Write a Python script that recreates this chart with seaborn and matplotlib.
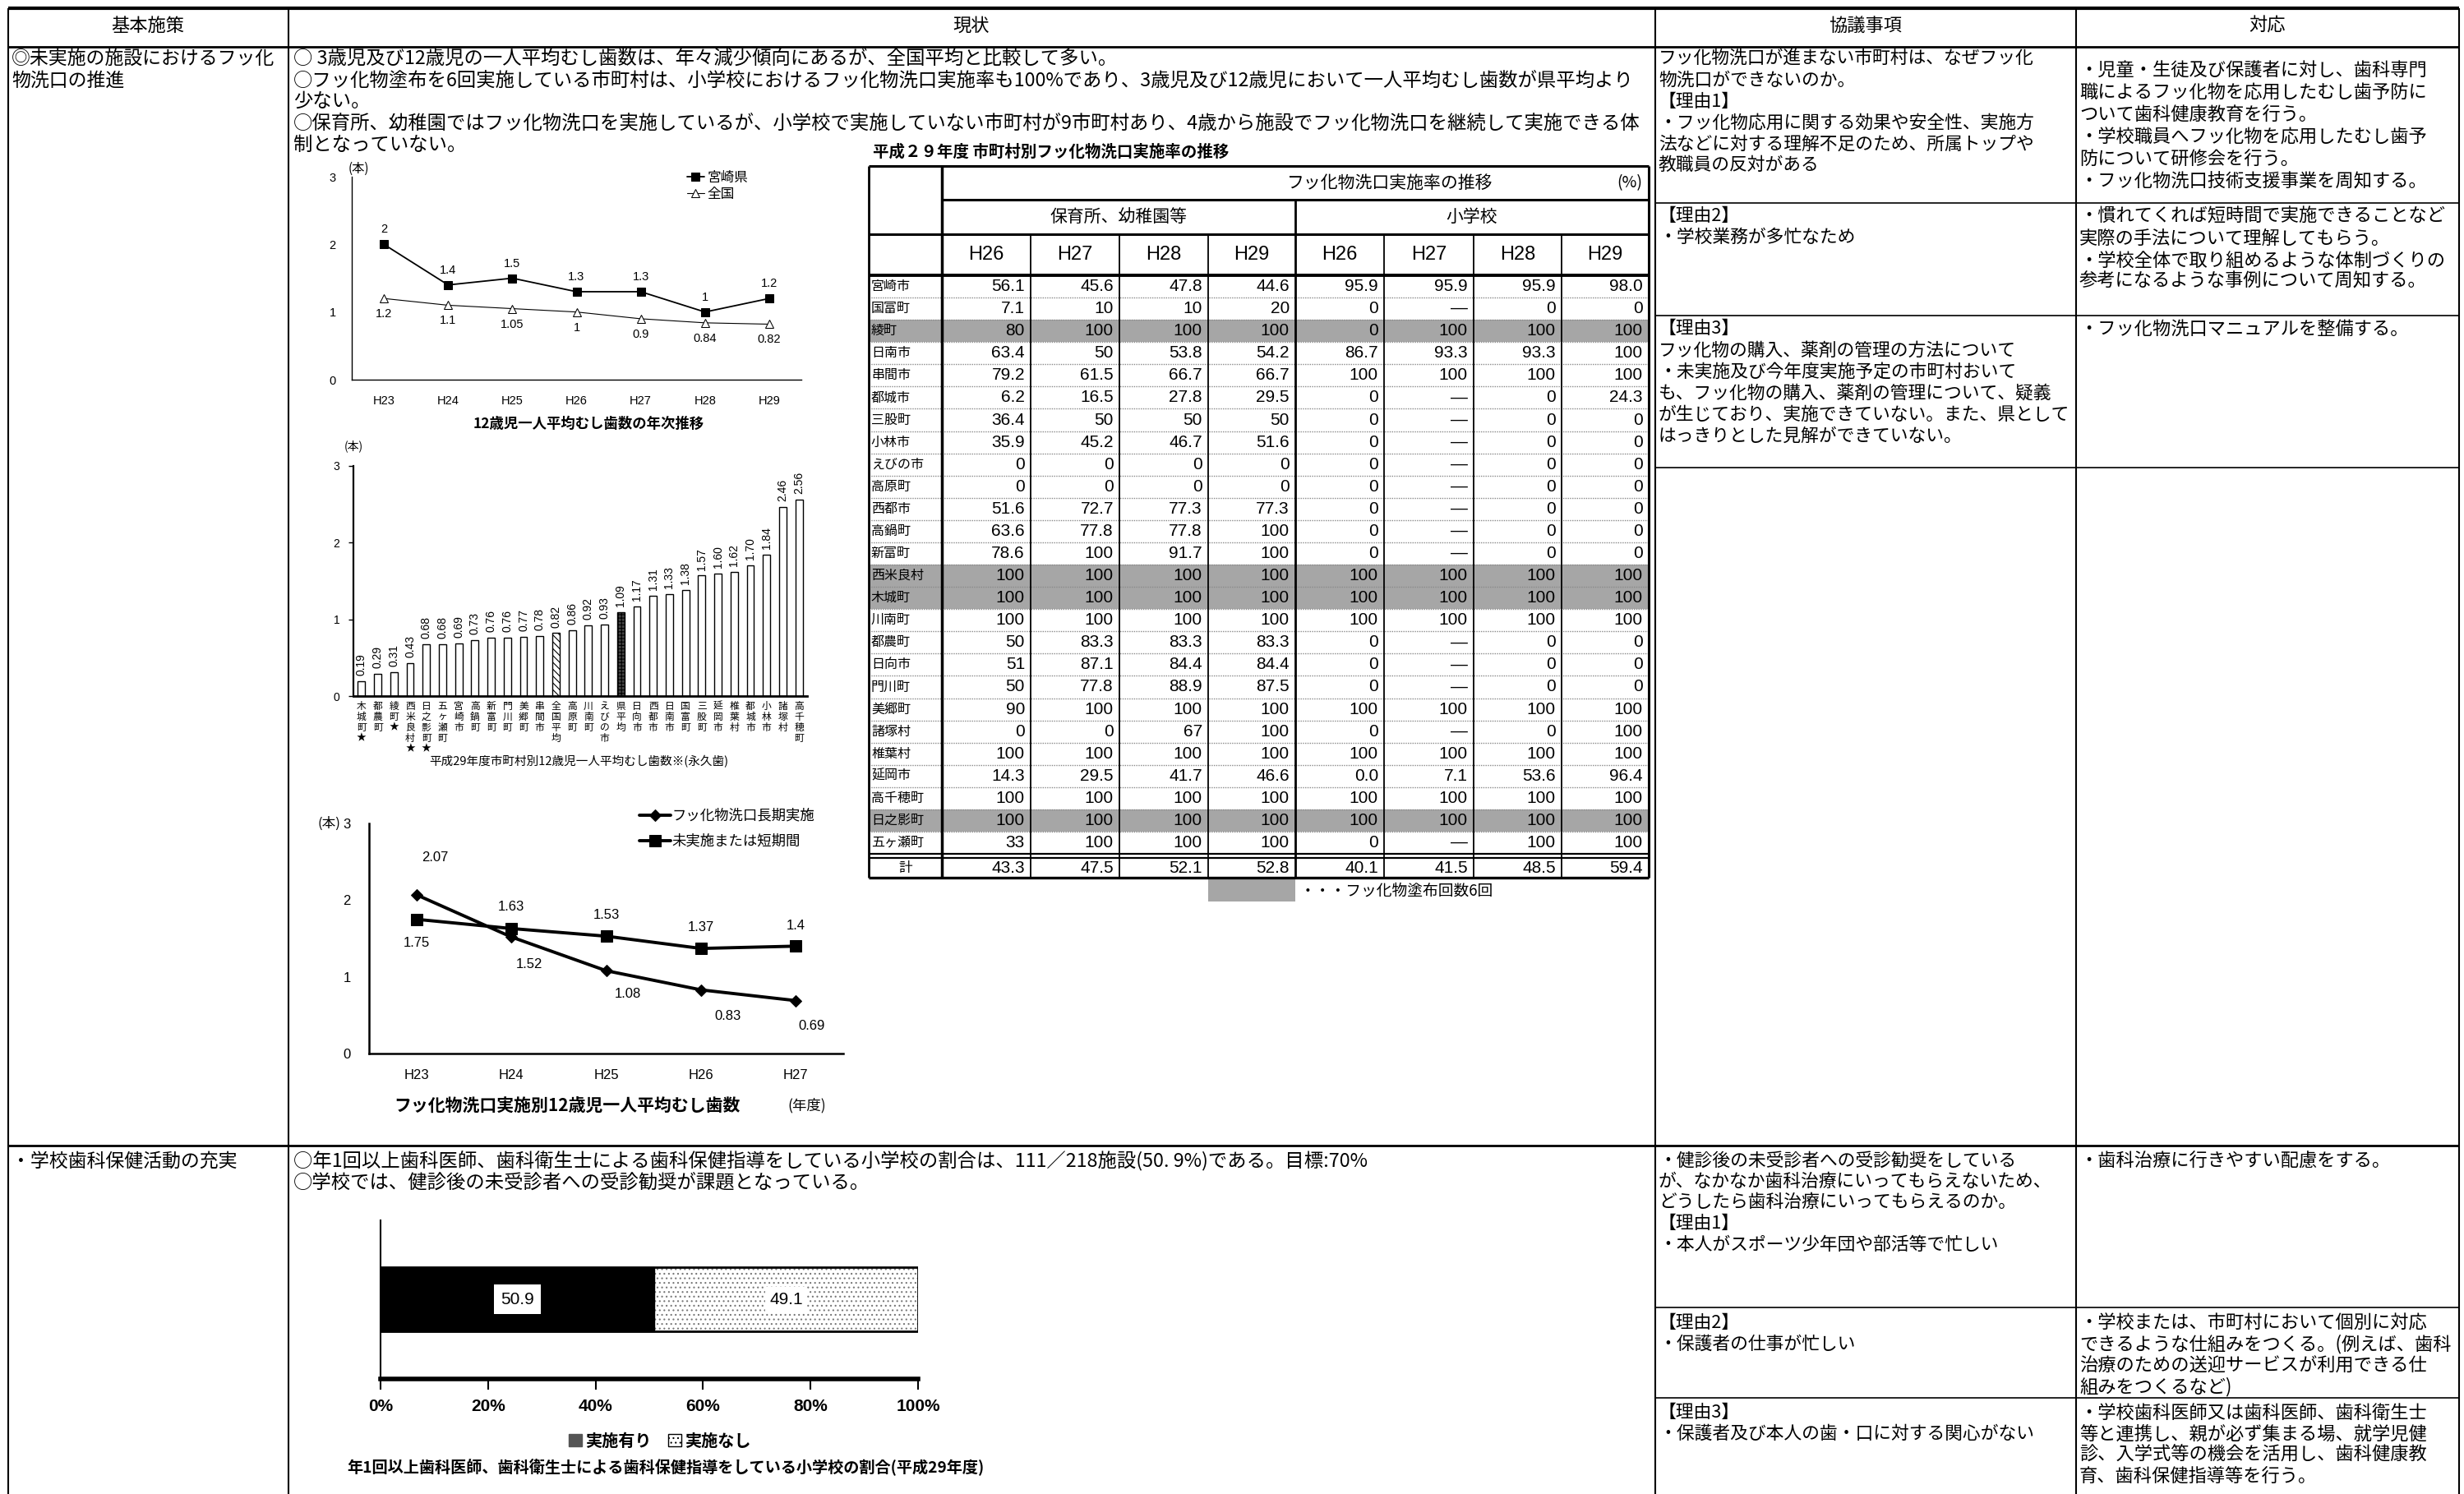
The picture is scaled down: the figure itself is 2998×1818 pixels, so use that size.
import pandas as pd
import matplotlib
matplotlib.use('Agg')
import matplotlib.pyplot as plt
import seaborn as sns
from matplotlib.patches import Patch, Rectangle

# ---- data ----
years_12 = ['H23', 'H24', 'H25', 'H26', 'H27', 'H28', 'H29']
caries_miyazaki = [2, 1.4, 1.5, 1.3, 1.3, 1, 1.2]
caries_national = [1.2, 1.1, 1.05, 1, 0.9, 0.84, 0.82]

town_names = ['木城町★', '都農町', '綾町★', '西米良村★', '日之影町★', '五ヶ瀬町', '宮崎市',
              '高鍋町', '新富町', '門川町', '美郷町', '串間市', '全国平均', '高原町', '川南町',
              'えびの市', '県平均', '日向市', '西都市', '日南市', '国富町', '三股町', '延岡市',
              '椎葉村', '都城市', '小林市', '諸塚村', '高千穂町']
town_caries = [0.19, 0.29, 0.31, 0.43, 0.68, 0.68, 0.69, 0.73, 0.76, 0.76, 0.77, 0.78, 0.82,
               0.86, 0.92, 0.93, 1.09, 1.17, 1.31, 1.33, 1.38, 1.57, 1.60, 1.62, 1.70, 1.84,
               2.46, 2.56]

years_rinse = ['H23', 'H24', 'H25', 'H26', 'H27']
rinse_long = [2.07, 1.52, 1.08, 0.83, 0.69]
rinse_short = [1.75, 1.63, 1.53, 1.37, 1.4]

table_towns = ['宮崎市', '国富町', '綾町', '日南市', '串間市', '都城市', '三股町', '小林市', 'えびの市',
               '高原町', '西都市', '高鍋町', '新富町', '西米良村', '木城町', '川南町', '都農町', '日向市',
               '門川町', '美郷町', '諸塚村', '椎葉村', '延岡市', '高千穂町', '日之影町', '五ヶ瀬町']
table_years = ['H26', 'H27', 'H28', 'H29', 'H26', 'H27', 'H28', 'H29']
nursery_h26 = ['56.1', '7.1', '80', '63.4', '79.2', '6.2', '36.4', '35.9', '0', '0', '51.6', '63.6', '78.6',
               '100', '100', '100', '50', '51', '50', '90', '0', '100', '14.3', '100', '100', '33']
nursery_h27 = ['45.6', '10', '100', '50', '61.5', '16.5', '50', '45.2', '0', '0', '72.7', '77.8', '100',
               '100', '100', '100', '83.3', '87.1', '77.8', '100', '0', '100', '29.5', '100', '100', '100']
nursery_h28 = ['47.8', '10', '100', '53.8', '66.7', '27.8', '50', '46.7', '0', '0', '77.3', '77.8', '91.7',
               '100', '100', '100', '83.3', '84.4', '88.9', '100', '67', '100', '41.7', '100', '100', '100']
nursery_h29 = ['44.6', '20', '100', '54.2', '66.7', '29.5', '50', '51.6', '0', '0', '77.3', '100', '100',
               '100', '100', '100', '83.3', '84.4', '87.5', '100', '100', '100', '46.6', '100', '100', '100']
school_h26 = ['95.9', '0', '0', '86.7', '100', '0', '0', '0', '0', '0', '0', '0', '0',
              '100', '100', '100', '0', '0', '0', '100', '0', '100', '0.0', '100', '100', '0']
school_h27 = ['95.9', '—', '100', '93.3', '100', '—', '—', '—', '—', '—', '—', '—', '—',
              '100', '100', '100', '—', '—', '—', '100', '—', '100', '7.1', '100', '100', '—']
school_h28 = ['95.9', '0', '100', '93.3', '100', '0', '0', '0', '0', '0', '0', '0', '0',
              '100', '100', '100', '0', '0', '0', '100', '0', '100', '53.6', '100', '100', '100']
school_h29 = ['98.0', '0', '100', '100', '100', '24.3', '0', '0', '0', '0', '0', '0', '0',
              '100', '100', '100', '0', '0', '0', '100', '100', '100', '96.4', '100', '100', '100']
table_total = ['43.3', '47.5', '52.1', '52.8', '40.1', '41.5', '48.5', '59.4']
six_times_towns = ['綾町', '西米良村', '木城町', '日之影町']

guidance_yes = [50.9]
guidance_no = [49.1]

# ---- setup ----
sns.set_theme(style='white')
JP = ['Noto Sans CJK JP', 'DejaVu Sans']
NUM = ['Liberation Sans Narrow', 'Liberation Sans', 'Noto Sans CJK JP']
LAT = ['Liberation Sans', 'Noto Sans CJK JP']
plt.rcParams['font.family'] = JP
plt.rcParams['text.color'] = 'black'
plt.rcParams['xtick.color'] = 'black'
plt.rcParams['ytick.color'] = 'black'
plt.rcParams['hatch.linewidth'] = 0.8

W, H = 2998, 1818
fig = plt.figure(figsize=(W / 100, H / 100), dpi=100)
fig.patch.set_facecolor('white')
bg = fig.add_axes([0, 0, 1, 1])
bg.set_xlim(0, W)
bg.set_ylim(H, 0)
bg.axis('off')


def px_axes(x0, y0, x1, y1):
    a = fig.add_axes([x0 / W, 1 - y1 / H, (x1 - x0) / W, (y1 - y0) / H])
    a.set_facecolor('none')
    return a


def hline(y, x0, x1, lw=1.5, **kw):
    bg.plot([x0, x1], [y, y], color=kw.pop('color', 'black'), lw=lw, solid_capstyle='butt', **kw)


def vline(x, y0, y1, lw=1.5, **kw):
    bg.plot([x, x], [y0, y1], color=kw.pop('color', 'black'), lw=lw, solid_capstyle='butt', **kw)


def put(x, y, s, size=16, ha='left', va='center', **kw):
    bg.text(x, y, s, fontsize=size, ha=ha, va=va, **kw)


def block(x, ys, lines, size=16):
    for y, s in zip(ys, lines):
        put(x, y, s, size)


# ---- outer table ----
cols = [10, 351, 2014, 2526, 2992]
hline(10, 10, 2992, lw=3)
hline(57, 10, 2992, lw=2)
hline(1394, 10, 2992, lw=2)
for x in cols:
    vline(x, 10, 1818, lw=1.5)
for y in [247, 384, 569, 1591, 1701]:
    hline(y, 2014, 2992, lw=1.2)

put(180, 31, '基本施策', 16, ha='center')
put(1182, 31, '現状', 16, ha='center')
put(2270, 31, '協議事項', 16, ha='center')
put(2759, 31, '対応', 16, ha='center')

block(14, [71, 98], ['◎未実施の施設におけるフッ化', '物洗口の推進'], 16.5)
block(357, [71, 98, 123, 150, 176], [
    '○ 3歳児及び12歳児の一人平均むし歯数は、年々減少傾向にあるが、全国平均と比較して多い。',
    '○フッ化物塗布を6回実施している市町村は、小学校におけるフッ化物洗口実施率も100%であり、3歳児及び12歳児において一人平均むし歯数が県平均より',
    '少ない。',
    '○保育所、幼稚園ではフッ化物洗口を実施しているが、小学校で実施していない市町村が9市町村あり、4歳から施設でフッ化物洗口を継続して実施できる体',
    '制となっていない。'], 16.8)
block(2018, [71, 98, 124, 150, 176, 201], [
    'フッ化物洗口が進まない市町村は、なぜフッ化',
    '物洗口ができないのか。',
    '【理由1】',
    '・フッ化物応用に関する効果や安全性、実施方',
    '法などに対する理解不足のため、所属トップや',
    '教職員の反対がある'], 15.7)
block(2018, [263, 289], ['【理由2】', '・学校業務が多忙なため'], 15.7)
block(2018, [400, 427, 453, 479, 505, 531], [
    '【理由3】',
    'フッ化物の購入、薬剤の管理の方法について',
    '・未実施及び今年度実施予定の市町村おいて',
    'も、フッ化物の購入、薬剤の管理について、疑義',
    'が生じており、実施できていない。また、県として',
    'はっきりとした見解ができていない。'], 15.7)
block(2530, [86, 113, 140, 167, 194, 221], [
    '・児童・生徒及び保護者に対し、歯科専門',
    '職によるフッ化物を応用したむし歯予防に',
    'ついて歯科健康教育を行う。',
    '・学校職員へフッ化物を応用したむし歯予',
    '防について研修会を行う。',
    '・フッ化物洗口技術支援事業を周知する。'], 16)
block(2530, [263, 290, 317, 342], [
    '・慣れてくれば短時間で実施できることなど',
    '実際の手法について理解してもらう。',
    '・学校全体で取り組めるような体制づくりの',
    '参考になるような事例について周知する。'], 16)
block(2530, [400], ['・フッ化物洗口マニュアルを整備する。'], 16)

block(14, [1413], ['・学校歯科保健活動の充実'], 16.5)
block(357, [1413, 1439], [
    '○年1回以上歯科医師、歯科衛生士による歯科保健指導をしている小学校の割合は、111／218施設(50. 9%)である。目標:70%',
    '○学校では、健診後の未受診者への受診勧奨が課題となっている。'], 16.8)
block(2018, [1413, 1438, 1463, 1489, 1515], [
    '・健診後の未受診者への受診勧奨をしている',
    'が、なかなか歯科治療にいってもらえないため、',
    'どうしたら歯科治療にいってもらえるのか。',
    '【理由1】',
    '・本人がスポーツ少年団や部活等で忙しい'], 15.7)
block(2018, [1610, 1636], ['【理由2】', '・保護者の仕事が忙しい'], 15.7)
block(2018, [1719, 1745], ['【理由3】', '・保護者及び本人の歯・口に対する関心がない'], 15.7)
block(2530, [1413], ['・歯科治療に行きやすい配慮をする。'], 16)
block(2530, [1610, 1636, 1662, 1688], [
    '・学校または、市町村において個別に対応',
    'できるような仕組みをつくる。(例えば、歯科',
    '治療のための送迎サービスが利用できる仕',
    '組みをつくるなど)'], 16)
block(2530, [1719, 1745, 1770, 1796], [
    '・学校歯科医師又は歯科医師、歯科衛生士',
    '等と連携し、親が必ず集まる場、就学児健',
    '診、入学式等の機会を活用し、歯科健康教',
    '育、歯科保健指導等を行う。'], 16)

# ---- chart 1: 12-year-old caries trend ----
ax1 = px_axes(428, 215, 975, 462)
sns.lineplot(x=years_12, y=caries_miyazaki, color='black', lw=1.3, marker='s', markersize=7,
             markeredgecolor='black', label='宮崎県', ax=ax1)
sns.lineplot(x=years_12, y=caries_national, color='black', lw=0.8, marker='^', markersize=7,
             markerfacecolor='white', markeredgecolor='black', label='全国', ax=ax1)
for i, v in enumerate(caries_miyazaki):
    ax1.annotate(f'{v:g}', (i, v), xytext=(0, 18), textcoords='offset pixels',
                 ha='center', va='center', fontsize=10.5, family=LAT)
for i, v in enumerate(caries_national):
    ax1.annotate(f'{v:g}', (i, v), xytext=(0, -19), textcoords='offset pixels',
                 ha='center', va='center', fontsize=10.5, family=LAT)
ax1.set_xlim(-0.5, 6.5)
ax1.set_ylim(0, 3)
ax1.set_yticks([0, 1, 2, 3])
ax1.set_xlabel('')
ax1.set_ylabel('')
ax1.tick_params(axis='both', labelsize=10.5, pad=14, length=0)
for lab in ax1.get_xticklabels() + ax1.get_yticklabels():
    lab.set_family(LAT)
for s in ['top', 'right']:
    ax1.spines[s].set_visible(False)
for s in ['left', 'bottom']:
    ax1.spines[s].set_color('black')
    ax1.spines[s].set_linewidth(1.0)
ax1.legend(loc='upper left', bbox_to_anchor=(0.745, 1.03), frameon=False, fontsize=12,
           handlelength=1.3, handletextpad=0.2, labelspacing=0.2, borderaxespad=0, borderpad=0)
put(436, 205, '(本)', 11, ha='center')
put(716, 516, '12歳児一人平均むし歯数の年次推移', 12.5, ha='center', weight='bold')

# ---- chart 2: caries by municipality ----
ax2 = px_axes(430, 567, 982, 847)
sns.barplot(x=town_names, y=town_caries, color='white', edgecolor='black', linewidth=1,
            width=0.45, saturation=1, ax=ax2)
bars = ax2.patches
bars[town_names.index('全国平均')].set_hatch('\\\\\\\\')
bars[town_names.index('県平均')].set_facecolor('#444444')
bars[town_names.index('県平均')].set_hatch('++++')
bars[town_names.index('県平均')].set_edgecolor('black')
ax2.bar_label(ax2.containers[0], labels=[f'{v:.2f}' for v in town_caries], rotation=90,
              padding=5, fontsize=10, family=LAT)
ax2.set_xlim(-0.5, 27.5)
ax2.set_ylim(0, 3)
ax2.set_yticks([0, 1, 2, 3])
ax2.set_xticks(range(len(town_names)))
ax2.set_xticklabels(['\n'.join(n) for n in town_names], fontsize=8.5, linespacing=1.0, va='top')
ax2.tick_params(axis='x', length=0, pad=4)
ax2.tick_params(axis='y', left=True, length=4, width=1, labelsize=10, pad=8)
for lab in ax2.get_yticklabels():
    lab.set_family(LAT)
for s in ['top', 'right']:
    ax2.spines[s].set_visible(False)
ax2.spines['left'].set_color('black')
ax2.spines['left'].set_linewidth(1.6)
ax2.spines['bottom'].set_color('black')
ax2.spines['bottom'].set_linewidth(2)
put(430, 543, '(本)', 10, ha='center')
put(704, 927, '平成29年度市町村別12歳児一人平均むし歯数※(永久歯)', 10.5, ha='center')

# ---- chart 3: fluoride rinse vs caries ----
ax3 = px_axes(449, 1002, 1026, 1282)
sns.lineplot(x=years_rinse, y=rinse_long, color='black', lw=2.8, marker='D', markersize=7,
             markeredgecolor='black', label='フッ化物洗口長期実施', ax=ax3)
sns.lineplot(x=years_rinse, y=rinse_short, color='black', lw=2.8, marker='s', markersize=10,
             markeredgecolor='black', label='未実施または短期間', ax=ax3)
long_offsets = [(23, 45), (22, -33), (26, -28), (33, -32), (19, -31)]
short_offsets = [(0, -29), (0, 26), (0, 26), (0, 26), (0, 25)]
for i, (v, off) in enumerate(zip(rinse_long, long_offsets)):
    ax3.annotate(f'{v:g}', (i, v), xytext=off, textcoords='offset pixels',
                 ha='center', va='center', fontsize=12, family=LAT)
for i, (v, off) in enumerate(zip(rinse_short, short_offsets)):
    ax3.annotate(f'{v:g}', (i, v), xytext=off, textcoords='offset pixels',
                 ha='center', va='center', fontsize=12, family=LAT)
ax3.set_xlim(-0.5, 4.5)
ax3.set_ylim(0, 3)
ax3.set_yticks([0, 1, 2, 3])
ax3.set_xlabel('')
ax3.set_ylabel('')
ax3.tick_params(axis='both', labelsize=12, length=0)
ax3.tick_params(axis='y', pad=16)
ax3.tick_params(axis='x', pad=14)
for lab in ax3.get_xticklabels() + ax3.get_yticklabels():
    lab.set_family(LAT)
for s in ['top', 'right']:
    ax3.spines[s].set_visible(False)
for s in ['left', 'bottom']:
    ax3.spines[s].set_color('black')
    ax3.spines[s].set_linewidth(1.8)
ax3.legend(loc='upper left', bbox_to_anchor=(0.57, 1.065), frameon=False, fontsize=12.5,
           handlelength=2.2, handletextpad=0.1, labelspacing=0.75, borderaxespad=0, borderpad=0)
put(400, 1002, '(本)', 12, ha='center')
put(690, 1345, 'フッ化物洗口実施別12歳児一人平均むし歯数', 15, ha='center', weight='bold')
put(982, 1345, '(年度)', 12.5, ha='center')

# ---- table: fluoride rinse rate by municipality ----
tx = [1057, 1146, 1254, 1362, 1470, 1576, 1684, 1793, 1900, 2006]
ty_top, ty_a, ty_b, ty_c = 202, 243, 285, 335
pitch = 27.08
ty_end = ty_c + pitch * len(table_towns)
ty_tot0 = ty_end + 5
ty_tot1 = ty_tot0 + 24
table_cols = [nursery_h26, nursery_h27, nursery_h28, nursery_h29,
              school_h26, school_h27, school_h28, school_h29]

put(1062, 185, '平成２９年度 市町村別フッ化物洗口実施率の推移', 14, weight='bold')
for k, name in enumerate(table_towns):
    if name in six_times_towns:
        bg.add_patch(Rectangle((tx[0], ty_c + k * pitch), tx[-1] - tx[0], pitch,
                               facecolor='#a6a6a6', edgecolor='none', zorder=0))
bg.add_patch(Rectangle((tx[4], ty_tot1 + 1), tx[5] - tx[4], 28, facecolor='#a6a6a6',
                       edgecolor='none'))
put(tx[5] + 6, ty_tot1 + 16, '・・・フッ化物塗布回数6回', 13.5)

hline(ty_top, tx[0], tx[-1], lw=2.2)
hline(ty_a, tx[1], tx[-1], lw=2.2)
hline(ty_b, tx[0], tx[-1], lw=2.2)
hline(ty_c, tx[0], tx[-1], lw=2.8)
for k in range(1, len(table_towns)):
    hline(ty_c + k * pitch, tx[0], tx[-1], lw=1, color='#8a8a8a', ls=(0, (1, 1)))
hline(ty_end, tx[0], tx[-1], lw=1.6)
hline(ty_tot0, tx[0], tx[-1], lw=1.6)
hline(ty_tot1, tx[0], tx[-1], lw=2.4)
vline(tx[0], ty_top, ty_tot1, lw=2)
vline(tx[1], ty_top, ty_tot1, lw=2.5)
vline(tx[5], ty_a, ty_tot1, lw=2)
vline(tx[-1], ty_top, ty_tot1, lw=2.2)
for x in tx[2:5] + tx[6:9]:
    vline(x, ty_b, ty_tot1, lw=1.3)

put((tx[1] + tx[-1]) / 2 - 10, (ty_top + ty_a) / 2, 'フッ化物洗口実施率の推移', 15)
put(tx[-1] - 8, (ty_top + ty_a) / 2, '(%)', 14, ha='right')
put((tx[1] + tx[5]) / 2, (ty_a + ty_b) / 2, '保育所、幼稚園等', 15, ha='center')
put((tx[5] + tx[-1]) / 2, (ty_a + ty_b) / 2, '小学校', 15, ha='center')
for j, yr in enumerate(table_years):
    put((tx[j + 1] + tx[j + 2]) / 2, (ty_b + ty_c) / 2, yr, 17, ha='center', family=NUM)
for k, name in enumerate(table_towns):
    yc = ty_c + (k + 0.5) * pitch
    put(tx[0] + 3, yc, name, 11.5)
    for j, col in enumerate(table_cols):
        put(tx[j + 2] - 7, yc, col[k], 15, ha='right', family=NUM)
yt = (ty_tot0 + ty_tot1) / 2
put((tx[0] + tx[1]) / 2, yt, '計', 12, ha='center')
for j, v in enumerate(table_total):
    put(tx[j + 2] - 7, yt, v, 15, ha='right', family=NUM)

# ---- chart 4: dental guidance in elementary schools ----
ax4 = px_axes(463, 1485, 1117, 1678)
total = [a + b for a, b in zip(guidance_yes, guidance_no)]
sns.barplot(x=total, y=['小学校'], orient='h', color='white', edgecolor='#777777', hatch='...',
            linewidth=0, width=0.97, saturation=1, ax=ax4)
sns.barplot(x=total, y=['小学校'], orient='h', fill=False, edgecolor='black', linewidth=2,
            width=0.97, ax=ax4)
sns.barplot(x=guidance_yes, y=['小学校'], orient='h', color='black', edgecolor='black',
            linewidth=1, width=0.97, saturation=1, ax=ax4)
ax4.text(guidance_yes[0] / 2, 0, f'{guidance_yes[0]:g}', ha='center', va='center', fontsize=15,
         family=NUM, bbox=dict(facecolor='white', edgecolor='none', pad=6))
ax4.text(guidance_yes[0] + guidance_no[0] / 2, 0, f'{guidance_no[0]:g}', ha='center', va='center',
         fontsize=15, family=NUM, bbox=dict(facecolor='white', edgecolor='none', pad=4))
ax4.set_xlim(0, 100)
ax4.set_ylim(1.206, -1.194)
ax4.set_xticks([0, 20, 40, 60, 80, 100])
ax4.set_xticklabels([f'{t}%' for t in [0, 20, 40, 60, 80, 100]])
ax4.set_yticks([])
ax4.set_xlabel('')
ax4.set_ylabel('')
ax4.tick_params(axis='x', bottom=True, length=9, width=1.5, labelsize=15, pad=8)
for lab in ax4.get_xticklabels():
    lab.set_family(NUM)
    lab.set_weight('bold')
for s in ['top', 'right']:
    ax4.spines[s].set_visible(False)
ax4.spines['left'].set_color('black')
ax4.spines['left'].set_linewidth(1.5)
ax4.spines['bottom'].set_color('black')
ax4.spines['bottom'].set_linewidth(4)
ax4.legend(handles=[Patch(facecolor='#555555', edgecolor='#555555'),
                    Patch(facecolor='white', edgecolor='black', hatch='...')],
           labels=['実施有り', '実施なし'], loc='center', bbox_to_anchor=(0.52, -0.39),
           ncol=2, frameon=False, handlelength=0.8, handleheight=0.8, handletextpad=0.2,
           columnspacing=1.0, prop={'family': JP, 'size': 14.5, 'weight': 'bold'})
put(810, 1785, '年1回以上歯科医師、歯科衛生士による歯科保健指導をしている小学校の割合(平成29年度)',
    13.8, ha='center', weight='bold')

fig.savefig('out.png', dpi=100, facecolor='white')
